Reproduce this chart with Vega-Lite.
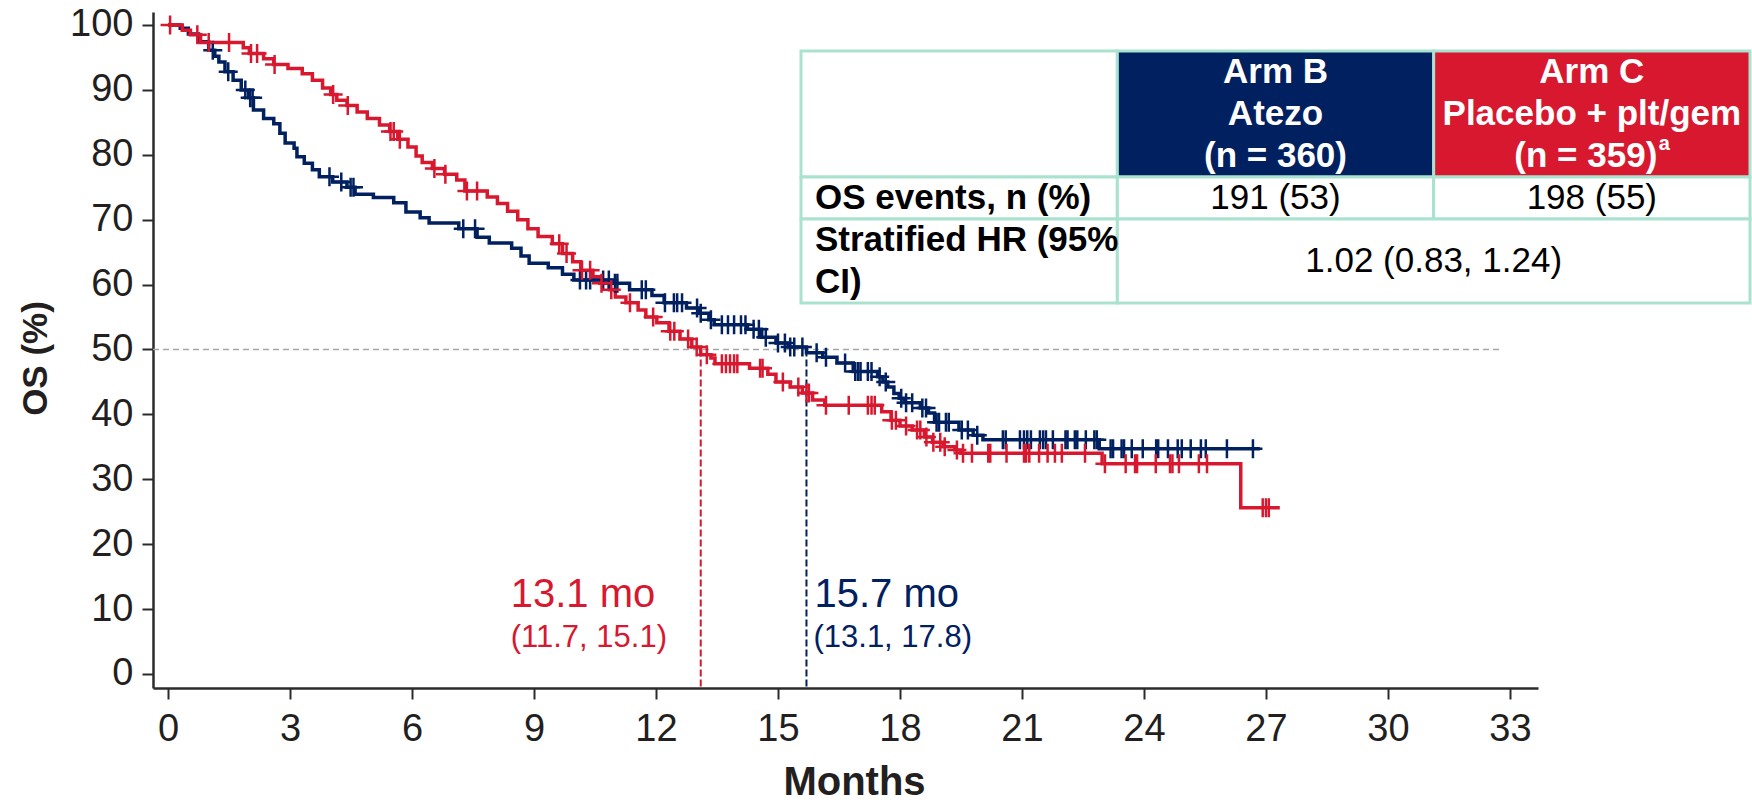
{
  "$schema": "https://vega.github.io/schema/vega-lite/v6.json",
  "width": 1385,
  "height": 676,
  "autosize": {"type": "none"},
  "padding": {"left": 153, "top": 12, "right": 214, "bottom": 115},
  "background": "white",
  "config": {
    "font": "Liberation Sans",
    "view": {"stroke": null},
    "axis": {
      "grid": false,
      "domainColor": "#2b2b2b",
      "domainWidth": 2.5,
      "tickColor": "#2b2b2b",
      "tickWidth": 2,
      "tickSize": 11,
      "labelFont": "Liberation Sans",
      "labelFontSize": 38,
      "labelColor": "#231f20",
      "labelFlush": false,
      "labelOverlap": false,
      "titleFont": "Liberation Sans",
      "titleFontWeight": "bold",
      "titleColor": "#231f20"
    },
    "text": {"font": "Liberation Sans"}
  },
  "datasets": {
    "km": [
      {"arm": "Arm B", "month": 0, "os": 100},
      {"arm": "Arm B", "month": 0.3, "os": 99.5},
      {"arm": "Arm B", "month": 0.5, "os": 98.6},
      {"arm": "Arm B", "month": 0.75, "os": 97.4},
      {"arm": "Arm B", "month": 1.0, "os": 96.1},
      {"arm": "Arm B", "month": 1.15, "os": 95.2},
      {"arm": "Arm B", "month": 1.25, "os": 94.3},
      {"arm": "Arm B", "month": 1.4, "os": 92.8},
      {"arm": "Arm B", "month": 1.6, "os": 91.5},
      {"arm": "Arm B", "month": 1.8, "os": 90.0},
      {"arm": "Arm B", "month": 1.98, "os": 88.8},
      {"arm": "Arm B", "month": 2.1, "os": 86.9},
      {"arm": "Arm B", "month": 2.35, "os": 85.6},
      {"arm": "Arm B", "month": 2.6, "os": 84.8},
      {"arm": "Arm B", "month": 2.75, "os": 83.3},
      {"arm": "Arm B", "month": 2.88, "os": 81.8},
      {"arm": "Arm B", "month": 3.1, "os": 81.0},
      {"arm": "Arm B", "month": 3.17, "os": 79.7},
      {"arm": "Arm B", "month": 3.35, "os": 78.7},
      {"arm": "Arm B", "month": 3.55, "os": 77.7},
      {"arm": "Arm B", "month": 3.72, "os": 76.6},
      {"arm": "Arm B", "month": 4.05, "os": 75.8},
      {"arm": "Arm B", "month": 4.4, "os": 75.0},
      {"arm": "Arm B", "month": 4.6, "os": 73.9},
      {"arm": "Arm B", "month": 5.05, "os": 73.4},
      {"arm": "Arm B", "month": 5.55, "os": 72.6},
      {"arm": "Arm B", "month": 5.85, "os": 71.2},
      {"arm": "Arm B", "month": 6.2, "os": 70.3},
      {"arm": "Arm B", "month": 6.42, "os": 69.5},
      {"arm": "Arm B", "month": 7.15, "os": 68.6},
      {"arm": "Arm B", "month": 7.6, "os": 67.3},
      {"arm": "Arm B", "month": 7.9, "os": 66.4},
      {"arm": "Arm B", "month": 8.45, "os": 65.6},
      {"arm": "Arm B", "month": 8.68, "os": 64.4},
      {"arm": "Arm B", "month": 8.88, "os": 63.3},
      {"arm": "Arm B", "month": 9.35, "os": 62.6},
      {"arm": "Arm B", "month": 9.7, "os": 61.6},
      {"arm": "Arm B", "month": 9.98, "os": 60.7},
      {"arm": "Arm B", "month": 10.95, "os": 60.2},
      {"arm": "Arm B", "month": 11.35, "os": 59.2},
      {"arm": "Arm B", "month": 11.9, "os": 58.3},
      {"arm": "Arm B", "month": 12.2, "os": 57.2},
      {"arm": "Arm B", "month": 12.75, "os": 56.4},
      {"arm": "Arm B", "month": 13.05, "os": 55.6},
      {"arm": "Arm B", "month": 13.3, "os": 54.6},
      {"arm": "Arm B", "month": 13.43, "os": 53.8},
      {"arm": "Arm B", "month": 14.25, "os": 53.1},
      {"arm": "Arm B", "month": 14.6, "os": 51.9},
      {"arm": "Arm B", "month": 14.95, "os": 51.0},
      {"arm": "Arm B", "month": 15.25, "os": 50.4},
      {"arm": "Arm B", "month": 15.7, "os": 49.5},
      {"arm": "Arm B", "month": 16.1, "os": 48.8},
      {"arm": "Arm B", "month": 16.45, "os": 47.9},
      {"arm": "Arm B", "month": 16.85, "os": 46.6},
      {"arm": "Arm B", "month": 17.45, "os": 45.8},
      {"arm": "Arm B", "month": 17.58, "os": 45.0},
      {"arm": "Arm B", "month": 17.7, "os": 44.2},
      {"arm": "Arm B", "month": 17.85, "os": 43.2},
      {"arm": "Arm B", "month": 17.98, "os": 42.5},
      {"arm": "Arm B", "month": 18.1, "os": 41.8},
      {"arm": "Arm B", "month": 18.5, "os": 41.0},
      {"arm": "Arm B", "month": 18.7, "os": 40.2},
      {"arm": "Arm B", "month": 18.85, "os": 38.8},
      {"arm": "Arm B", "month": 19.45, "os": 37.6},
      {"arm": "Arm B", "month": 19.8, "os": 36.8},
      {"arm": "Arm B", "month": 20.04, "os": 36.1},
      {"arm": "Arm B", "month": 22.9, "os": 34.7},
      {"arm": "Arm B", "month": 26.85, "os": 34.7},
      {"arm": "Arm C", "month": 0, "os": 100},
      {"arm": "Arm C", "month": 0.35, "os": 99.2},
      {"arm": "Arm C", "month": 0.55, "os": 98.5},
      {"arm": "Arm C", "month": 0.8, "os": 97.3},
      {"arm": "Arm C", "month": 1.85, "os": 96.5},
      {"arm": "Arm C", "month": 2.0, "os": 95.6},
      {"arm": "Arm C", "month": 2.35, "os": 94.8},
      {"arm": "Arm C", "month": 2.6, "os": 93.9},
      {"arm": "Arm C", "month": 2.95, "os": 93.3},
      {"arm": "Arm C", "month": 3.3, "os": 92.5},
      {"arm": "Arm C", "month": 3.55, "os": 91.5},
      {"arm": "Arm C", "month": 3.8, "os": 90.3},
      {"arm": "Arm C", "month": 4.0, "os": 89.3},
      {"arm": "Arm C", "month": 4.15, "os": 88.4},
      {"arm": "Arm C", "month": 4.4, "os": 87.6},
      {"arm": "Arm C", "month": 4.65, "os": 86.6},
      {"arm": "Arm C", "month": 4.9, "os": 85.6},
      {"arm": "Arm C", "month": 5.2, "os": 84.6},
      {"arm": "Arm C", "month": 5.45, "os": 83.6},
      {"arm": "Arm C", "month": 5.65, "os": 82.4},
      {"arm": "Arm C", "month": 5.9, "os": 81.2},
      {"arm": "Arm C", "month": 6.1, "os": 79.8},
      {"arm": "Arm C", "month": 6.25, "os": 78.8},
      {"arm": "Arm C", "month": 6.5, "os": 77.9},
      {"arm": "Arm C", "month": 6.8, "os": 77.0},
      {"arm": "Arm C", "month": 7.1, "os": 76.1},
      {"arm": "Arm C", "month": 7.3, "os": 74.4},
      {"arm": "Arm C", "month": 7.85, "os": 73.5},
      {"arm": "Arm C", "month": 8.1, "os": 72.5},
      {"arm": "Arm C", "month": 8.35, "os": 71.3},
      {"arm": "Arm C", "month": 8.6, "os": 70.0},
      {"arm": "Arm C", "month": 8.85, "os": 68.6},
      {"arm": "Arm C", "month": 9.1, "os": 67.4},
      {"arm": "Arm C", "month": 9.45, "os": 66.3},
      {"arm": "Arm C", "month": 9.7, "os": 64.8},
      {"arm": "Arm C", "month": 9.95, "os": 63.5},
      {"arm": "Arm C", "month": 10.15, "os": 62.2},
      {"arm": "Arm C", "month": 10.45, "os": 61.2},
      {"arm": "Arm C", "month": 10.62, "os": 60.2},
      {"arm": "Arm C", "month": 10.85, "os": 59.2},
      {"arm": "Arm C", "month": 11.0, "os": 58.1},
      {"arm": "Arm C", "month": 11.26, "os": 57.2},
      {"arm": "Arm C", "month": 11.56, "os": 56.1},
      {"arm": "Arm C", "month": 11.75, "os": 55.0},
      {"arm": "Arm C", "month": 12.02, "os": 54.1},
      {"arm": "Arm C", "month": 12.32, "os": 52.8},
      {"arm": "Arm C", "month": 12.59, "os": 51.6},
      {"arm": "Arm C", "month": 12.88, "os": 50.4},
      {"arm": "Arm C", "month": 13.1, "os": 49.2},
      {"arm": "Arm C", "month": 13.35, "os": 48.7},
      {"arm": "Arm C", "month": 13.45, "os": 47.8},
      {"arm": "Arm C", "month": 14.3, "os": 47.1},
      {"arm": "Arm C", "month": 14.75, "os": 46.2},
      {"arm": "Arm C", "month": 14.95, "os": 45.0},
      {"arm": "Arm C", "month": 15.3, "os": 44.2},
      {"arm": "Arm C", "month": 15.6, "os": 43.3},
      {"arm": "Arm C", "month": 15.85, "os": 42.2},
      {"arm": "Arm C", "month": 16.15, "os": 41.4},
      {"arm": "Arm C", "month": 17.55, "os": 40.4},
      {"arm": "Arm C", "month": 17.78, "os": 39.1},
      {"arm": "Arm C", "month": 18.0, "os": 38.2},
      {"arm": "Arm C", "month": 18.3, "os": 37.6},
      {"arm": "Arm C", "month": 18.6, "os": 36.5},
      {"arm": "Arm C", "month": 18.8, "os": 35.7},
      {"arm": "Arm C", "month": 19.06, "os": 35.0},
      {"arm": "Arm C", "month": 19.35, "os": 34.5},
      {"arm": "Arm C", "month": 19.5, "os": 34.0},
      {"arm": "Arm C", "month": 22.97, "os": 32.4},
      {"arm": "Arm C", "month": 26.38, "os": 25.6},
      {"arm": "Arm C", "month": 27.34, "os": 25.6}
    ],
    "censored": [
      {"arm": "Arm B", "month": 1.1, "os": 96.1},
      {"arm": "Arm B", "month": 1.48, "os": 92.8},
      {"arm": "Arm B", "month": 1.9, "os": 90.0},
      {"arm": "Arm B", "month": 2.02, "os": 88.8},
      {"arm": "Arm B", "month": 2.08, "os": 88.8},
      {"arm": "Arm B", "month": 3.97, "os": 76.6},
      {"arm": "Arm B", "month": 4.26, "os": 75.8},
      {"arm": "Arm B", "month": 4.49, "os": 75.0},
      {"arm": "Arm B", "month": 4.56, "os": 75.0},
      {"arm": "Arm B", "month": 7.26, "os": 68.6},
      {"arm": "Arm B", "month": 7.55, "os": 68.6},
      {"arm": "Arm B", "month": 10.13, "os": 60.7},
      {"arm": "Arm B", "month": 10.28, "os": 60.7},
      {"arm": "Arm B", "month": 10.38, "os": 60.7},
      {"arm": "Arm B", "month": 10.7, "os": 60.7},
      {"arm": "Arm B", "month": 10.84, "os": 60.7},
      {"arm": "Arm B", "month": 10.99, "os": 60.2},
      {"arm": "Arm B", "month": 11.05, "os": 60.2},
      {"arm": "Arm B", "month": 11.65, "os": 59.2},
      {"arm": "Arm B", "month": 11.75, "os": 59.2},
      {"arm": "Arm B", "month": 12.22, "os": 57.2},
      {"arm": "Arm B", "month": 12.44, "os": 57.2},
      {"arm": "Arm B", "month": 12.52, "os": 57.2},
      {"arm": "Arm B", "month": 12.64, "os": 57.2},
      {"arm": "Arm B", "month": 13.01, "os": 56.4},
      {"arm": "Arm B", "month": 13.1, "os": 55.6},
      {"arm": "Arm B", "month": 13.35, "os": 54.6},
      {"arm": "Arm B", "month": 13.62, "os": 53.8},
      {"arm": "Arm B", "month": 13.77, "os": 53.8},
      {"arm": "Arm B", "month": 13.92, "os": 53.8},
      {"arm": "Arm B", "month": 14.09, "os": 53.8},
      {"arm": "Arm B", "month": 14.2, "os": 53.8},
      {"arm": "Arm B", "month": 14.4, "os": 53.1},
      {"arm": "Arm B", "month": 14.53, "os": 53.1},
      {"arm": "Arm B", "month": 14.7, "os": 51.9},
      {"arm": "Arm B", "month": 15.0, "os": 51.0},
      {"arm": "Arm B", "month": 15.17, "os": 51.0},
      {"arm": "Arm B", "month": 15.3, "os": 50.4},
      {"arm": "Arm B", "month": 15.4, "os": 50.4},
      {"arm": "Arm B", "month": 15.6, "os": 50.4},
      {"arm": "Arm B", "month": 15.95, "os": 49.5},
      {"arm": "Arm B", "month": 16.18, "os": 48.8},
      {"arm": "Arm B", "month": 16.65, "os": 47.9},
      {"arm": "Arm B", "month": 16.9, "os": 46.6},
      {"arm": "Arm B", "month": 16.97, "os": 46.6},
      {"arm": "Arm B", "month": 17.03, "os": 46.6},
      {"arm": "Arm B", "month": 17.21, "os": 46.6},
      {"arm": "Arm B", "month": 17.3, "os": 46.6},
      {"arm": "Arm B", "month": 17.5, "os": 45.8},
      {"arm": "Arm B", "month": 17.65, "os": 45.0},
      {"arm": "Arm B", "month": 18.03, "os": 42.5},
      {"arm": "Arm B", "month": 18.15, "os": 41.8},
      {"arm": "Arm B", "month": 18.3, "os": 41.8},
      {"arm": "Arm B", "month": 18.55, "os": 41.0},
      {"arm": "Arm B", "month": 18.64, "os": 41.0},
      {"arm": "Arm B", "month": 18.9, "os": 38.8},
      {"arm": "Arm B", "month": 18.96, "os": 38.8},
      {"arm": "Arm B", "month": 19.13, "os": 38.8},
      {"arm": "Arm B", "month": 19.2, "os": 38.8},
      {"arm": "Arm B", "month": 19.52, "os": 37.6},
      {"arm": "Arm B", "month": 19.67, "os": 37.6},
      {"arm": "Arm B", "month": 19.9, "os": 36.8},
      {"arm": "Arm B", "month": 20.53, "os": 36.1},
      {"arm": "Arm B", "month": 20.6, "os": 36.1},
      {"arm": "Arm B", "month": 20.95, "os": 36.1},
      {"arm": "Arm B", "month": 21.05, "os": 36.1},
      {"arm": "Arm B", "month": 21.13, "os": 36.1},
      {"arm": "Arm B", "month": 21.22, "os": 36.1},
      {"arm": "Arm B", "month": 21.44, "os": 36.1},
      {"arm": "Arm B", "month": 21.52, "os": 36.1},
      {"arm": "Arm B", "month": 21.59, "os": 36.1},
      {"arm": "Arm B", "month": 21.76, "os": 36.1},
      {"arm": "Arm B", "month": 22.07, "os": 36.1},
      {"arm": "Arm B", "month": 22.12, "os": 36.1},
      {"arm": "Arm B", "month": 22.3, "os": 36.1},
      {"arm": "Arm B", "month": 22.36, "os": 36.1},
      {"arm": "Arm B", "month": 22.57, "os": 36.1},
      {"arm": "Arm B", "month": 22.78, "os": 36.1},
      {"arm": "Arm B", "month": 22.84, "os": 36.1},
      {"arm": "Arm B", "month": 23.18, "os": 34.7},
      {"arm": "Arm B", "month": 23.24, "os": 34.7},
      {"arm": "Arm B", "month": 23.45, "os": 34.7},
      {"arm": "Arm B", "month": 23.51, "os": 34.7},
      {"arm": "Arm B", "month": 23.7, "os": 34.7},
      {"arm": "Arm B", "month": 23.97, "os": 34.7},
      {"arm": "Arm B", "month": 24.3, "os": 34.7},
      {"arm": "Arm B", "month": 24.35, "os": 34.7},
      {"arm": "Arm B", "month": 24.59, "os": 34.7},
      {"arm": "Arm B", "month": 24.83, "os": 34.7},
      {"arm": "Arm B", "month": 24.93, "os": 34.7},
      {"arm": "Arm B", "month": 25.15, "os": 34.7},
      {"arm": "Arm B", "month": 25.4, "os": 34.7},
      {"arm": "Arm B", "month": 25.52, "os": 34.7},
      {"arm": "Arm B", "month": 26.04, "os": 34.7},
      {"arm": "Arm B", "month": 26.68, "os": 34.7},
      {"arm": "Arm C", "month": 0.05, "os": 100},
      {"arm": "Arm C", "month": 0.72, "os": 98.5},
      {"arm": "Arm C", "month": 1.0, "os": 97.3},
      {"arm": "Arm C", "month": 1.5, "os": 97.3},
      {"arm": "Arm C", "month": 2.04, "os": 95.6},
      {"arm": "Arm C", "month": 2.19, "os": 95.6},
      {"arm": "Arm C", "month": 2.62, "os": 93.9},
      {"arm": "Arm C", "month": 4.06, "os": 89.3},
      {"arm": "Arm C", "month": 4.42, "os": 87.6},
      {"arm": "Arm C", "month": 5.47, "os": 83.6},
      {"arm": "Arm C", "month": 5.55, "os": 83.6},
      {"arm": "Arm C", "month": 5.7, "os": 82.4},
      {"arm": "Arm C", "month": 6.55, "os": 77.9},
      {"arm": "Arm C", "month": 6.82, "os": 77.0},
      {"arm": "Arm C", "month": 7.35, "os": 74.4},
      {"arm": "Arm C", "month": 7.6, "os": 74.4},
      {"arm": "Arm C", "month": 9.62, "os": 66.3},
      {"arm": "Arm C", "month": 9.8, "os": 64.8},
      {"arm": "Arm C", "month": 10.18, "os": 62.2},
      {"arm": "Arm C", "month": 10.38, "os": 62.2},
      {"arm": "Arm C", "month": 10.66, "os": 60.2},
      {"arm": "Arm C", "month": 10.9, "os": 59.2},
      {"arm": "Arm C", "month": 11.36, "os": 57.2},
      {"arm": "Arm C", "month": 11.93, "os": 55.0},
      {"arm": "Arm C", "month": 12.35, "os": 52.8},
      {"arm": "Arm C", "month": 12.45, "os": 52.8},
      {"arm": "Arm C", "month": 12.79, "os": 51.6},
      {"arm": "Arm C", "month": 13.0, "os": 50.4},
      {"arm": "Arm C", "month": 13.25, "os": 49.2},
      {"arm": "Arm C", "month": 13.62, "os": 47.8},
      {"arm": "Arm C", "month": 13.72, "os": 47.8},
      {"arm": "Arm C", "month": 13.82, "os": 47.8},
      {"arm": "Arm C", "month": 13.92, "os": 47.8},
      {"arm": "Arm C", "month": 14.0, "os": 47.8},
      {"arm": "Arm C", "month": 14.56, "os": 47.1},
      {"arm": "Arm C", "month": 14.62, "os": 47.1},
      {"arm": "Arm C", "month": 15.12, "os": 45.0},
      {"arm": "Arm C", "month": 15.5, "os": 44.2},
      {"arm": "Arm C", "month": 15.7, "os": 43.3},
      {"arm": "Arm C", "month": 15.76, "os": 43.3},
      {"arm": "Arm C", "month": 16.18, "os": 41.4},
      {"arm": "Arm C", "month": 16.74, "os": 41.4},
      {"arm": "Arm C", "month": 17.21, "os": 41.4},
      {"arm": "Arm C", "month": 17.3, "os": 41.4},
      {"arm": "Arm C", "month": 17.38, "os": 41.4},
      {"arm": "Arm C", "month": 17.8, "os": 39.1},
      {"arm": "Arm C", "month": 17.9, "os": 39.1},
      {"arm": "Arm C", "month": 18.15, "os": 38.2},
      {"arm": "Arm C", "month": 18.42, "os": 37.6},
      {"arm": "Arm C", "month": 18.5, "os": 37.6},
      {"arm": "Arm C", "month": 18.65, "os": 36.5},
      {"arm": "Arm C", "month": 18.82, "os": 35.7},
      {"arm": "Arm C", "month": 18.99, "os": 35.7},
      {"arm": "Arm C", "month": 19.1, "os": 35.0},
      {"arm": "Arm C", "month": 19.4, "os": 34.5},
      {"arm": "Arm C", "month": 19.55, "os": 34.0},
      {"arm": "Arm C", "month": 19.77, "os": 34.0},
      {"arm": "Arm C", "month": 20.17, "os": 34.0},
      {"arm": "Arm C", "month": 20.22, "os": 34.0},
      {"arm": "Arm C", "month": 20.62, "os": 34.0},
      {"arm": "Arm C", "month": 21.05, "os": 34.0},
      {"arm": "Arm C", "month": 21.1, "os": 34.0},
      {"arm": "Arm C", "month": 21.18, "os": 34.0},
      {"arm": "Arm C", "month": 21.42, "os": 34.0},
      {"arm": "Arm C", "month": 21.63, "os": 34.0},
      {"arm": "Arm C", "month": 21.81, "os": 34.0},
      {"arm": "Arm C", "month": 21.98, "os": 34.0},
      {"arm": "Arm C", "month": 22.55, "os": 34.0},
      {"arm": "Arm C", "month": 23.04, "os": 32.4},
      {"arm": "Arm C", "month": 23.55, "os": 32.4},
      {"arm": "Arm C", "month": 23.78, "os": 32.4},
      {"arm": "Arm C", "month": 23.83, "os": 32.4},
      {"arm": "Arm C", "month": 24.29, "os": 32.4},
      {"arm": "Arm C", "month": 24.64, "os": 32.4},
      {"arm": "Arm C", "month": 24.7, "os": 32.4},
      {"arm": "Arm C", "month": 24.86, "os": 32.4},
      {"arm": "Arm C", "month": 25.35, "os": 32.4},
      {"arm": "Arm C", "month": 25.55, "os": 32.4},
      {"arm": "Arm C", "month": 26.92, "os": 25.6},
      {"arm": "Arm C", "month": 27.0, "os": 25.6},
      {"arm": "Arm C", "month": 27.07, "os": 25.6}
    ],
    "medians": [
      {"arm": "Arm C", "month": 13.1, "label": "13.1 mo", "ci": "(11.7, 15.1)"},
      {"arm": "Arm B", "month": 15.7, "label": "15.7 mo", "ci": "(13.1, 17.8)"}
    ],
    "cells": [
      {"c0": 0, "c1": 1, "l0": 0, "l1": 3, "fill": "none"},
      {"c0": 1, "c1": 2, "l0": 0, "l1": 3, "fill": "Arm B"},
      {"c0": 2, "c1": 3, "l0": 0, "l1": 3, "fill": "Arm C"},
      {"c0": 0, "c1": 1, "l0": 3, "l1": 4, "fill": "none"},
      {"c0": 1, "c1": 2, "l0": 3, "l1": 4, "fill": "none"},
      {"c0": 2, "c1": 3, "l0": 3, "l1": 4, "fill": "none"},
      {"c0": 0, "c1": 1, "l0": 4, "l1": 6, "fill": "none"},
      {"c0": 1, "c1": 3, "l0": 4, "l1": 6, "fill": "none"}
    ],
    "cellText": [
      {"c": 1.5, "l": 0.5, "kind": "head", "text": "Arm B"},
      {"c": 1.5, "l": 1.5, "kind": "head", "text": "Atezo"},
      {"c": 1.5, "l": 2.5, "kind": "head", "text": "(n = 360)"},
      {"c": 2.5, "l": 0.5, "kind": "head", "text": "Arm C"},
      {"c": 2.5, "l": 1.5, "kind": "head", "text": "Placebo + plt/gem"},
      {"c": 2.5, "l": 2.5, "kind": "headNote", "text": "(n = 359)"},
      {"c": 2.5, "l": 2.5, "kind": "sup", "text": "a"},
      {"c": 0, "l": 3.5, "kind": "stub", "text": "OS events, n (%)"},
      {"c": 0, "l": 4.5, "kind": "stub", "text": "Stratified HR (95%"},
      {"c": 0, "l": 5.5, "kind": "stub", "text": "CI)"},
      {"c": 1.5, "l": 3.5, "kind": "body", "text": "191 (53)"},
      {"c": 2.5, "l": 3.5, "kind": "body", "text": "198 (55)"},
      {"c": 2, "l": 5, "kind": "body", "text": "1.02 (0.83, 1.24)"}
    ]
  },
  "layer": [
    {
      "layer": [
        {
          "data": {"values": [{}]},
          "mark": {"type": "rule", "color": "#a6a6a6", "strokeWidth": 1.5, "strokeDash": [6, 4]},
          "encoding": {
            "x": {"datum": -0.37, "type": "quantitative", "title": "Months", "scale": {"domain": [-0.37, 33.69], "nice": false, "zero": false}},
            "x2": {"datum": 32.73},
            "y": {"datum": 50, "type": "quantitative", "title": "OS (%)", "scale": {"domain": [-2.16, 102], "nice": false, "zero": false}}
          }
        },
        {
          "data": {"name": "medians"},
          "mark": {"type": "rule", "strokeWidth": 2, "strokeDash": [7, 3]},
          "encoding": {
            "x": {"field": "month", "type": "quantitative", "title": "Months", "scale": {"domain": [-0.37, 33.69], "nice": false, "zero": false}},
            "y": {"datum": 50, "type": "quantitative", "title": "OS (%)", "scale": {"domain": [-2.16, 102], "nice": false, "zero": false}},
            "y2": {"datum": -2.16},
            "color": {"field": "arm", "type": "nominal", "scale": {"domain": ["Arm B", "Arm C"], "range": ["#002060", "#d7182f"]}, "legend": null}
          }
        },
        {
          "data": {"name": "km"},
          "mark": {"type": "line", "interpolate": "step-after", "strokeWidth": 3.5},
          "encoding": {
            "x": {
              "field": "month", "type": "quantitative", "title": "Months",
              "scale": {"domain": [-0.37, 33.69], "nice": false, "zero": false},
              "axis": {"values": [0, 3, 6, 9, 12, 15, 18, 21, 24, 27, 30, 33], "labelPadding": 11, "titlePadding": 14, "titleFontSize": 40, "titleX": 701}
            },
            "y": {
              "field": "os", "type": "quantitative", "title": "OS (%)",
              "scale": {"domain": [-2.16, 102], "nice": false, "zero": false},
              "axis": {"values": [0, 10, 20, 30, 40, 50, 60, 70, 80, 90, 100], "labelPadding": 9, "titlePadding": 16, "titleFontSize": 35, "titleY": 346}
            },
            "color": {"field": "arm", "type": "nominal", "scale": {"domain": ["Arm B", "Arm C"], "range": ["#002060", "#d7182f"]}, "legend": null}
          }
        },
        {
          "data": {"name": "censored"},
          "mark": {"type": "point", "shape": "M0,-1V1M-1,0H1", "filled": false, "size": 361, "strokeWidth": 2.5, "opacity": 1},
          "encoding": {
            "x": {"field": "month", "type": "quantitative", "title": "Months", "scale": {"domain": [-0.37, 33.69], "nice": false, "zero": false}},
            "y": {"field": "os", "type": "quantitative", "title": "OS (%)", "scale": {"domain": [-2.16, 102], "nice": false, "zero": false}},
            "color": {"field": "arm", "type": "nominal", "scale": {"domain": ["Arm B", "Arm C"], "range": ["#002060", "#d7182f"]}, "legend": null}
          }
        },
        {
          "data": {"name": "medians"},
          "transform": [{"filter": "datum.arm === 'Arm C'"}],
          "mark": {"type": "text", "align": "left", "baseline": "alphabetic", "dx": -190, "fontSize": 40, "color": "#d7182f"},
          "encoding": {
            "x": {"field": "month", "type": "quantitative", "title": "Months", "scale": {"domain": [-0.37, 33.69], "nice": false, "zero": false}},
            "y": {"datum": 10.3, "type": "quantitative", "title": "OS (%)", "scale": {"domain": [-2.16, 102], "nice": false, "zero": false}},
            "text": {"field": "label"}
          }
        },
        {
          "data": {"name": "medians"},
          "transform": [{"filter": "datum.arm === 'Arm C'"}],
          "mark": {"type": "text", "align": "left", "baseline": "alphabetic", "dx": -190, "fontSize": 31, "color": "#d7182f"},
          "encoding": {
            "x": {"field": "month", "type": "quantitative", "title": "Months", "scale": {"domain": [-0.37, 33.69], "nice": false, "zero": false}},
            "y": {"datum": 4.2, "type": "quantitative", "title": "OS (%)", "scale": {"domain": [-2.16, 102], "nice": false, "zero": false}},
            "text": {"field": "ci"}
          }
        },
        {
          "data": {"name": "medians"},
          "transform": [{"filter": "datum.arm === 'Arm B'"}],
          "mark": {"type": "text", "align": "left", "baseline": "alphabetic", "dx": 8, "fontSize": 40, "color": "#002060"},
          "encoding": {
            "x": {"field": "month", "type": "quantitative", "title": "Months", "scale": {"domain": [-0.37, 33.69], "nice": false, "zero": false}},
            "y": {"datum": 10.3, "type": "quantitative", "title": "OS (%)", "scale": {"domain": [-2.16, 102], "nice": false, "zero": false}},
            "text": {"field": "label"}
          }
        },
        {
          "data": {"name": "medians"},
          "transform": [{"filter": "datum.arm === 'Arm B'"}],
          "mark": {"type": "text", "align": "left", "baseline": "alphabetic", "dx": 7, "fontSize": 31, "color": "#002060"},
          "encoding": {
            "x": {"field": "month", "type": "quantitative", "title": "Months", "scale": {"domain": [-0.37, 33.69], "nice": false, "zero": false}},
            "y": {"datum": 4.2, "type": "quantitative", "title": "OS (%)", "scale": {"domain": [-2.16, 102], "nice": false, "zero": false}},
            "text": {"field": "ci"}
          }
        }
      ]
    },
    {
      "layer": [
        {
          "data": {"name": "cells"},
          "mark": {"type": "rect", "stroke": "#a9e2cf", "strokeWidth": 3},
          "encoding": {
            "x": {"field": "c0", "type": "quantitative", "scale": {"domain": [0, 3], "range": [648, 1597], "nice": false, "zero": false}, "axis": null},
            "x2": {"field": "c1"},
            "y": {"field": "l0", "type": "quantitative", "scale": {"domain": [0, 6], "range": [39, 291], "nice": false, "zero": false}, "axis": null},
            "y2": {"field": "l1"},
            "color": {"field": "fill", "type": "nominal", "scale": {"domain": ["Arm B", "Arm C", "none"], "range": ["#002060", "#d7182f", "#ffffff"]}, "legend": null}
          }
        },
        {
          "data": {"name": "cellText"},
          "transform": [{"filter": "datum.kind === 'head'"}],
          "mark": {"type": "text", "align": "center", "baseline": "middle", "fontSize": 35, "fontWeight": "bold", "color": "#ffffff"},
          "encoding": {
            "x": {"field": "c", "type": "quantitative", "scale": {"domain": [0, 3], "range": [648, 1597], "nice": false, "zero": false}, "axis": null},
            "y": {"field": "l", "type": "quantitative", "scale": {"domain": [0, 6], "range": [39, 291], "nice": false, "zero": false}, "axis": null},
            "text": {"field": "text"}
          }
        },
        {
          "data": {"name": "cellText"},
          "transform": [{"filter": "datum.kind === 'headNote'"}],
          "mark": {"type": "text", "align": "center", "baseline": "middle", "dx": -6, "fontSize": 35, "fontWeight": "bold", "color": "#ffffff"},
          "encoding": {
            "x": {"field": "c", "type": "quantitative", "scale": {"domain": [0, 3], "range": [648, 1597], "nice": false, "zero": false}, "axis": null},
            "y": {"field": "l", "type": "quantitative", "scale": {"domain": [0, 6], "range": [39, 291], "nice": false, "zero": false}, "axis": null},
            "text": {"field": "text"}
          }
        },
        {
          "data": {"name": "cellText"},
          "transform": [{"filter": "datum.kind === 'sup'"}],
          "mark": {"type": "text", "align": "left", "baseline": "middle", "dx": 67, "dy": -12, "fontSize": 20, "fontWeight": "bold", "color": "#ffffff"},
          "encoding": {
            "x": {"field": "c", "type": "quantitative", "scale": {"domain": [0, 3], "range": [648, 1597], "nice": false, "zero": false}, "axis": null},
            "y": {"field": "l", "type": "quantitative", "scale": {"domain": [0, 6], "range": [39, 291], "nice": false, "zero": false}, "axis": null},
            "text": {"field": "text"}
          }
        },
        {
          "data": {"name": "cellText"},
          "transform": [{"filter": "datum.kind === 'stub'"}],
          "mark": {"type": "text", "align": "left", "baseline": "middle", "dx": 14, "fontSize": 35, "fontWeight": "bold", "color": "#000000"},
          "encoding": {
            "x": {"field": "c", "type": "quantitative", "scale": {"domain": [0, 3], "range": [648, 1597], "nice": false, "zero": false}, "axis": null},
            "y": {"field": "l", "type": "quantitative", "scale": {"domain": [0, 6], "range": [39, 291], "nice": false, "zero": false}, "axis": null},
            "text": {"field": "text"}
          }
        },
        {
          "data": {"name": "cellText"},
          "transform": [{"filter": "datum.kind === 'body'"}],
          "mark": {"type": "text", "align": "center", "baseline": "middle", "fontSize": 35, "color": "#000000"},
          "encoding": {
            "x": {"field": "c", "type": "quantitative", "scale": {"domain": [0, 3], "range": [648, 1597], "nice": false, "zero": false}, "axis": null},
            "y": {"field": "l", "type": "quantitative", "scale": {"domain": [0, 6], "range": [39, 291], "nice": false, "zero": false}, "axis": null},
            "text": {"field": "text"}
          }
        }
      ]
    }
  ],
  "resolve": {
    "scale": {"x": "independent", "y": "independent", "color": "independent"},
    "axis": {"x": "independent", "y": "independent"}
  }
}
